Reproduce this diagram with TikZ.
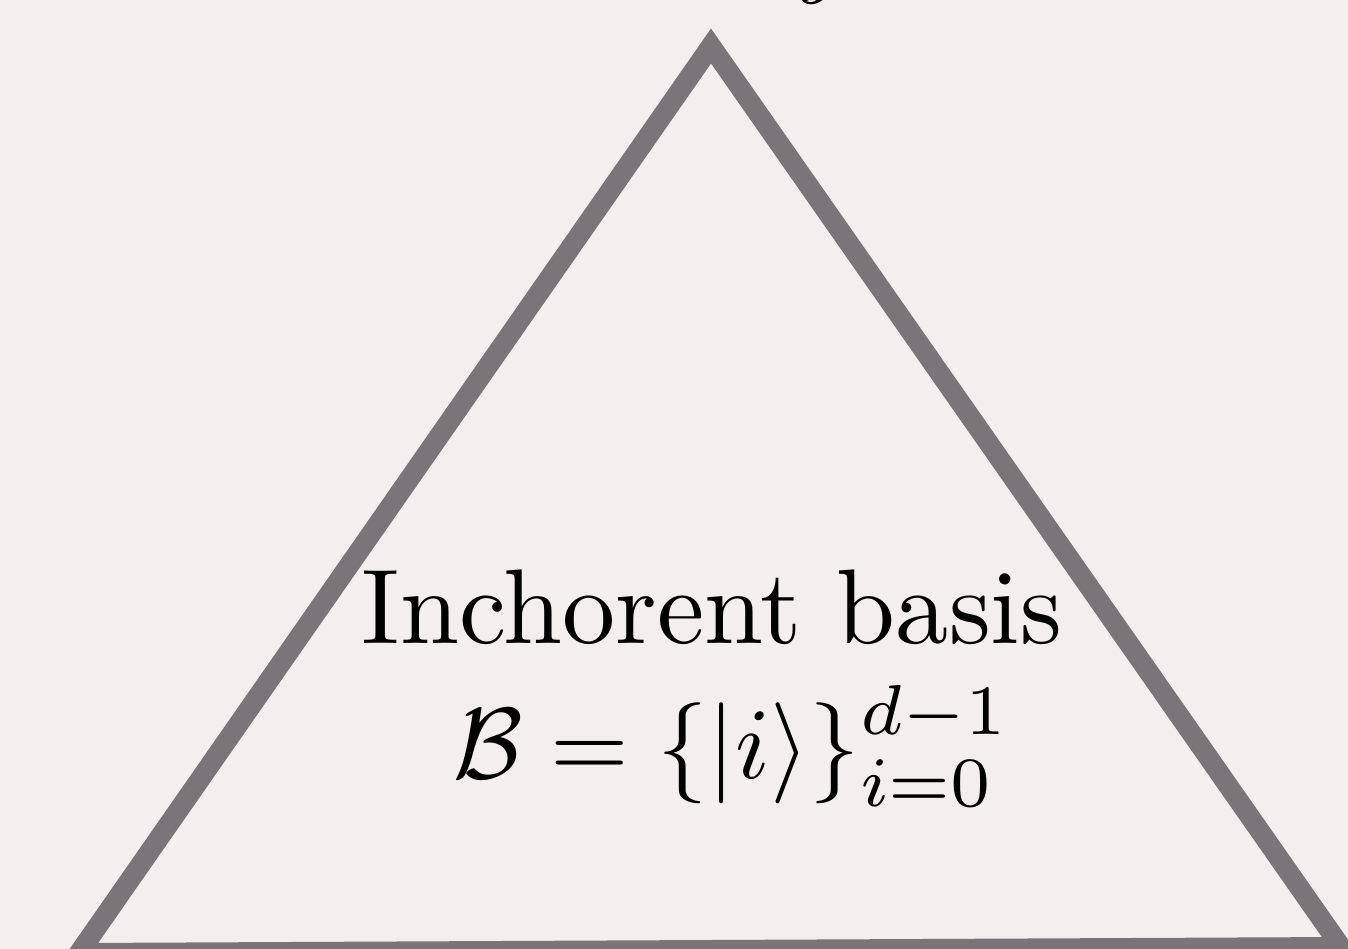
\documentclass[tikz,border=0pt]{standalone}
\usepackage{amsmath}
\definecolor{bgcol}{RGB}{243,239,238}
\definecolor{edgecol}{RGB}{122,117,121}
\newcommand{\bigsc}[2][10.4]{\scalebox{#1}{\fontsize{10}{12}\selectfont #2}}
\tikzset{
  tri/.style={draw=edgecol,line width=20pt,line join=miter},
  bigtext/.style={inner sep=0pt,anchor=base}
}
\begin{document}
\begin{tikzpicture}[x=1pt,y=-1pt]
\fill[bgcol] (0,0) rectangle (1348,949);
\useasboundingbox (0,0) rectangle (1348,949);
\coordinate (apex) at (711,46);
\coordinate (bl) at (79,953);
\coordinate (br) at (1341,947);
\draw[tri] (apex) -- (bl) -- (br) -- cycle;
\node[bigtext] (title) at (712,643) {\bigsc[10.62]{Inchorent basis}};
\node[bigtext] (basis) at (732,778) {\bigsc[10.1]{$\mathcal{B}=\{\lvert i\rangle\}_{i=0}^{d-1}$}};
\node[bigtext] (topj) at (828,-16) {\bigsc{$j$}};
\end{tikzpicture}
\end{document}
